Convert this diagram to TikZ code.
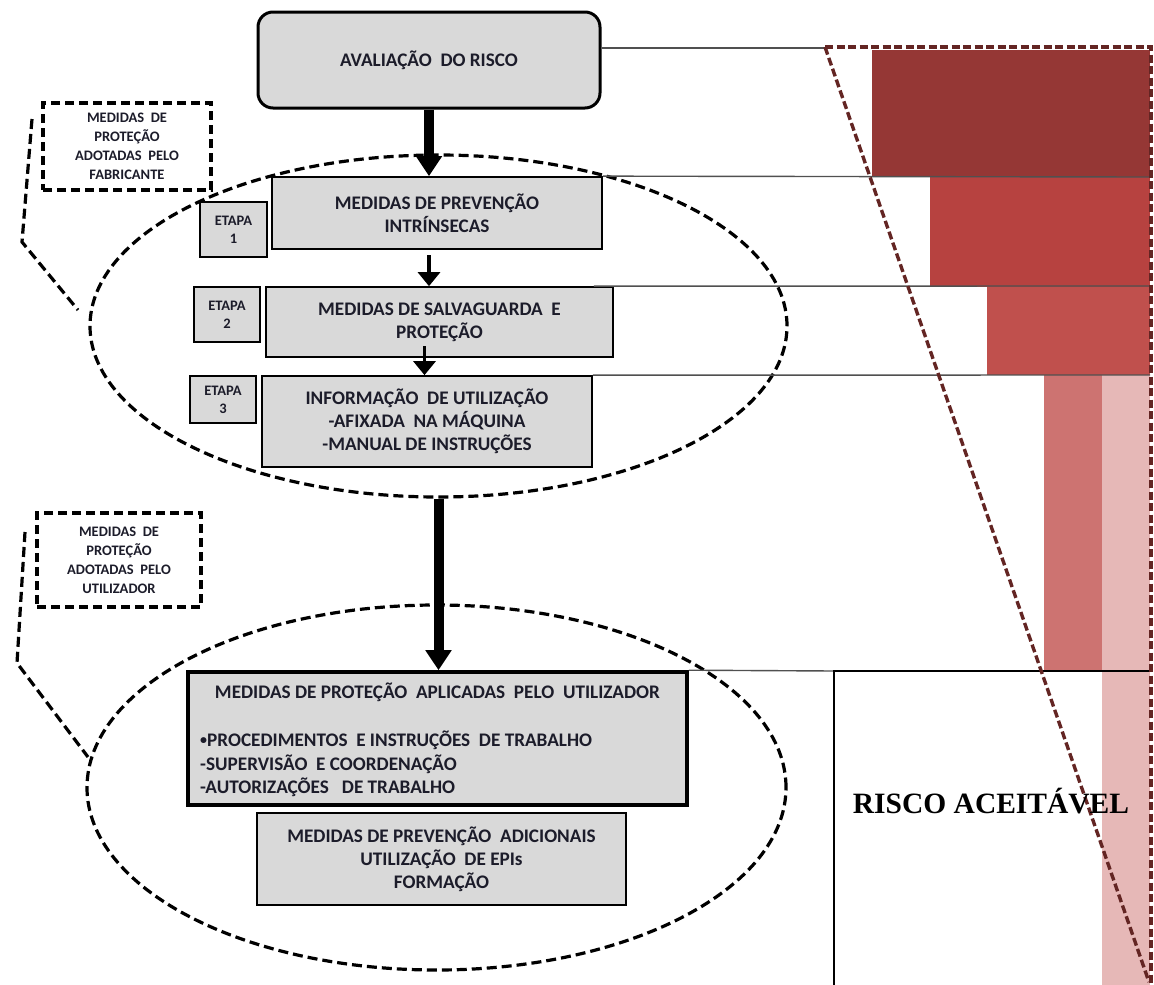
\documentclass[tikz,border=0pt]{standalone}
\usepackage{fontspec}
\setmainfont{Carlito}
\newfontfamily\serifbold{Liberation Serif}
\usetikzlibrary{arrows.meta,shapes.geometric}

\definecolor{boxfill}{HTML}{D9D9D9}
\definecolor{ink}{HTML}{1C1C2A}
\definecolor{riskA}{HTML}{953735}
\definecolor{riskB}{HTML}{B74240}
\definecolor{riskC}{HTML}{C0504D}
\definecolor{riskD}{HTML}{CD7371}
\definecolor{riskE}{HTML}{E6B8B7}
\definecolor{riskline}{HTML}{632523}
\definecolor{guide}{HTML}{505050}

\newcommand{\smallbullet}{\raisebox{2pt}{\fontsize{14}{14}\selectfont•}}

\tikzset{
  stage/.style={draw=black, line width=1.7pt, fill=boxfill, inner sep=0pt, align=center,
    text=ink, font=\fontsize{19.2}{23}\selectfont\bfseries},
  tag/.style={draw=black, line width=1.7pt, fill=boxfill, inner sep=0pt, align=center,
    text=ink, font=\fontsize{14.5}{18}\selectfont\bfseries},
  note/.style={draw=black, line width=3.4pt, dash pattern=on 9pt off 5pt, inner sep=0pt,
    align=center, text=ink, font=\fontsize{14.5}{19}\selectfont\bfseries},
  group/.style={ellipse, draw=black, line width=3.2pt, dash pattern=on 10pt off 5pt, inner sep=0pt},
  bracket/.style={draw=black, line width=3.2pt, dash pattern=on 10pt off 5pt},
  flow/.style={draw=black, line width=3.2pt, -{Triangle[width=22pt,length=14pt]}},
  heavyflow/.style={draw=black, line width=10pt, -{Triangle[width=25pt,length=20pt]}},
  guideline/.style={draw=guide, line width=1.4pt},
  listline/.style={inner sep=0pt, text=ink, font=\fontsize{19.2}{23}\selectfont\bfseries},
  riskedge/.style={draw=riskline, line width=3.4pt, dash pattern=on 8pt off 3.5pt},
}

\begin{document}
\begin{tikzpicture}[x=1pt,y=-1pt]
\useasboundingbox (0,0) rectangle (1154,985);

% risk reduction bars
\fill[riskA] (872,50) rectangle (1150,177);
\fill[riskB] (930,177) rectangle (1150,287);
\fill[riskC] (987,287) rectangle (1150,375);
\fill[riskD] (1044,375) rectangle (1102,670);
\fill[riskE] (1102,375) rectangle (1150,985);

% main boxes
\node[stage, rounded corners=15pt, line width=3pt, minimum width=342pt, minimum height=96pt]
  (top) at (429,60) {AVALIAÇÃO~~DO RISCO};
\node[stage, minimum width=330pt, minimum height=72pt] (b1) at (437,213)
  {MEDIDAS DE PREVENÇÃO\\INTRÍNSECAS};
\node[stage, minimum width=347pt, minimum height=70pt] (b2) at (439.5,322)
  {MEDIDAS DE SALVAGUARDA~~E\\PROTEÇÃO};
\node[stage, minimum width=330pt, minimum height=91pt] (b3) at (427,421.5)
  {INFORMAÇÃO~~DE UTILIZAÇÃO\\-AFIXADA~~NA MÁQUINA\\-MANUAL DE INSTRUÇÕES};

\node[tag, minimum width=67pt, minimum height=55pt] (e1) at (233.5,229.5) {ETAPA\\1};
\node[tag, minimum width=66pt, minimum height=55pt] (e2) at (227,314.5) {ETAPA\\2};
\node[tag, minimum width=66pt, minimum height=47pt] (e3) at (223,399.5) {ETAPA\\3};

\node[stage, line width=3.6pt, minimum width=499pt, minimum height=133pt] (b4) at (437.5,738.5) {};
\node[listline, anchor=base] (b4t) at (437.5,698) {MEDIDAS DE PROTEÇÃO~~APLICADAS~~PELO~~UTILIZADOR};
\node[listline, anchor=base west] (b4a) at (200,746) {\smallbullet PROCEDIMENTOS~~E INSTRUÇÕES~~DE TRABALHO};
\node[listline, anchor=base west] (b4b) at (200,770) {-SUPERVISÃO~~E COORDENAÇÃO};
\node[listline, anchor=base west] (b4c) at (200,793) {-AUTORIZAÇÕES~~~DE TRABALHO};

\node[stage, minimum width=369pt, minimum height=92pt] (b5) at (441.5,859)
  {MEDIDAS DE PREVENÇÃO~~ADICIONAIS\\UTILIZAÇÃO~~DE EPIs\\FORMAÇÃO};

% dashed groupings
\node[group, minimum width=697pt, minimum height=342pt] (grp1) at (438.5,326) {};
\node[group, minimum width=699pt, minimum height=365pt] (grp2) at (436.5,787.5) {};

\node[note, minimum width=168pt, minimum height=87pt] (n1) at (127,146.5)
  {MEDIDAS~~DE\\PROTEÇÃO\\ADOTADAS~~PELO\\FABRICANTE};
\node[note, minimum width=164pt, minimum height=94pt] (n2) at (119,560)
  {MEDIDAS~~DE\\PROTEÇÃO\\ADOTADAS~~PELO\\UTILIZADOR};

\coordinate (k1a) at (32,119);
\coordinate (k1b) at (22,242);
\coordinate (k1c) at (78,310);
\draw[bracket] (k1a) -- (k1b) -- (k1c);
\coordinate (k2a) at (25,532);
\coordinate (k2b) at (17,663);
\coordinate (k2c) at (88,757);
\draw[bracket] (k2a) -- (k2b) -- (k2c);

% flow arrows
\draw[heavyflow] (top.south) -- (top.south |- b1.north);
\coordinate (c12) at (429,255);
\draw[flow] (c12) -- (c12 |- b2.north);
\coordinate (c23) at (424.5,346);
\draw[flow] (c23) -- (c23 |- b3.north);
\draw[heavyflow] (grp1.south) -- (grp1.south |- b4.north);

% level guide lines
\draw[guideline] (top.east |- 0,48) -- (825,48);
\draw[guideline] (b1.north east) -- (1150,177);
\draw[guideline] ([xshift=-20pt]b2.north east) -- (1150,286);
\draw[guideline] (b3.north east) -- (1150,375);
\draw[guideline] (b4.north east) -- (834,671);
\draw[black, line width=1.7pt] (834,985) -- (834,671) -- (1150,671);

% residual risk envelope
\draw[riskedge] (825,47) -- (1151,47) -- (1151,985);
\draw[riskedge] (825,47) -- (1149,982);

\node[font=\serifbold\fontsize{29.5}{29.5}\selectfont\bfseries, inner sep=0pt] (ok) at (991,801) {RISCO ACEITÁVEL};
\end{tikzpicture}
\end{document}
